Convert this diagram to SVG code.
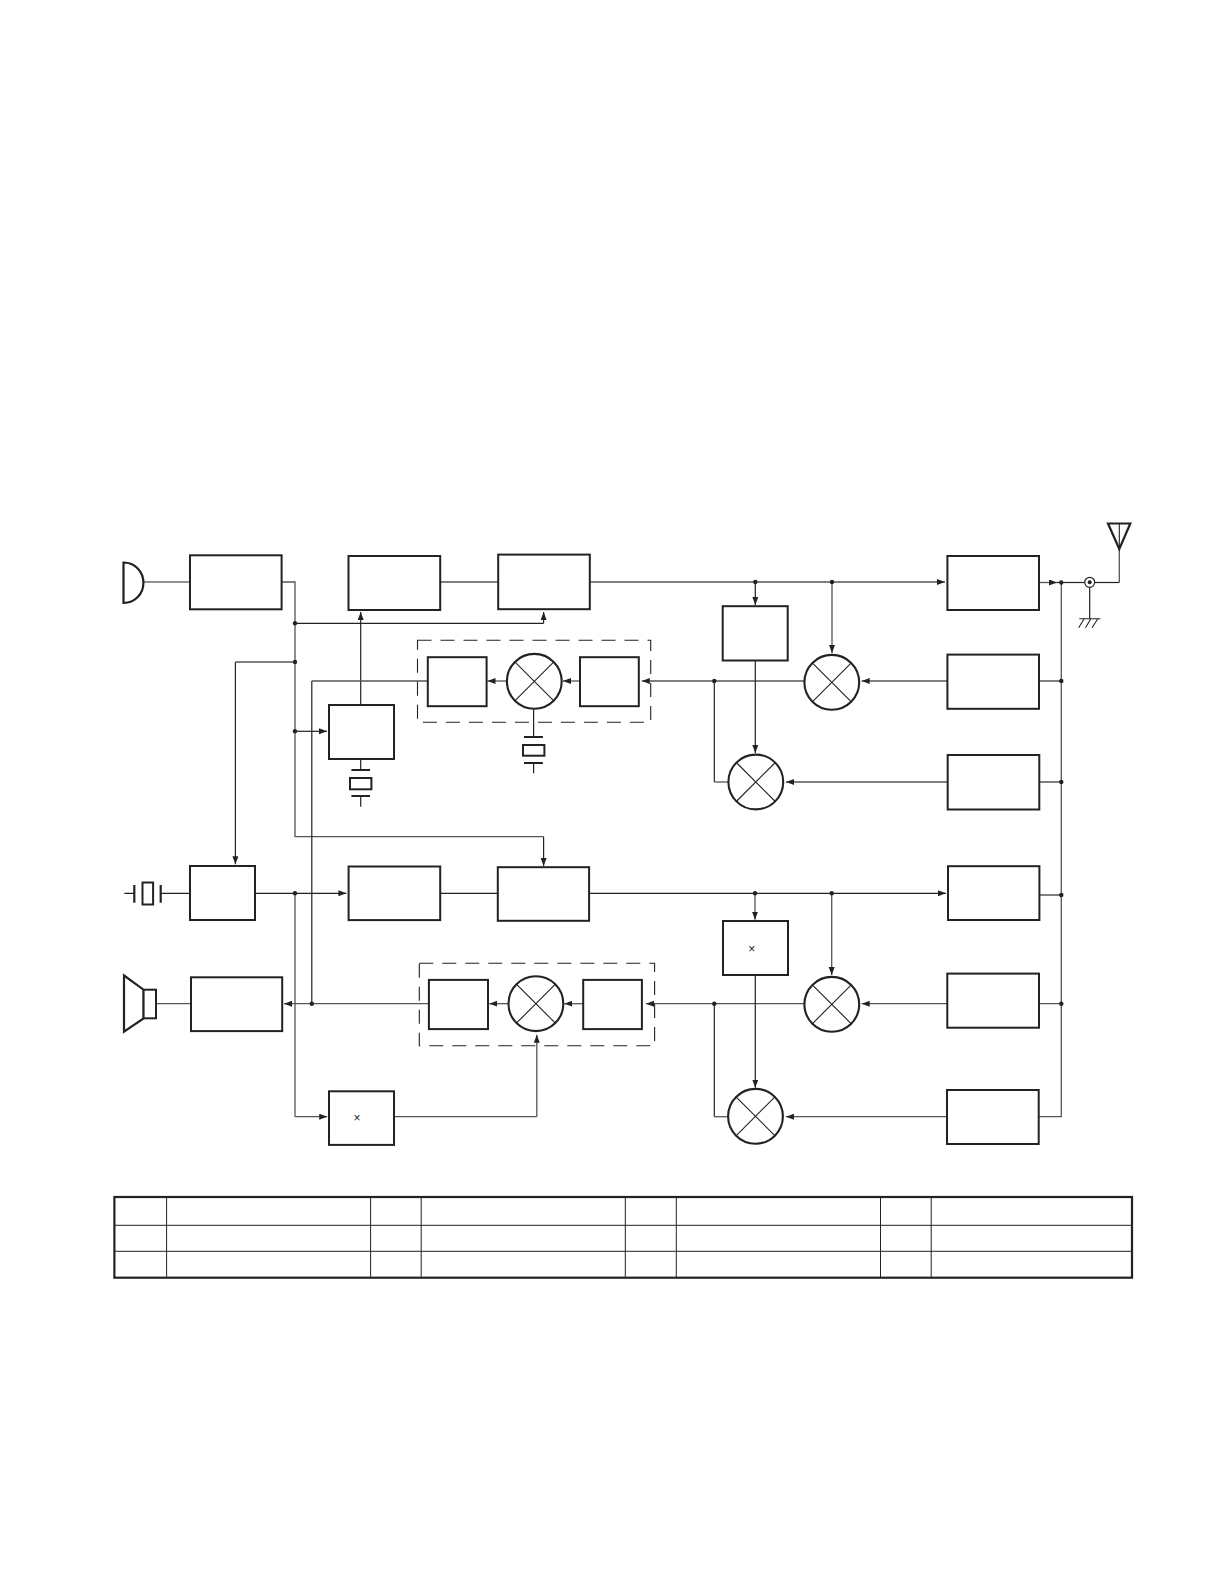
<svg xmlns="http://www.w3.org/2000/svg" width="1224" height="1584" viewBox="0 0 1224 1584">
<style>
.b{fill:#fff;stroke:#222;stroke-width:2}
.c{fill:#fff;stroke:#222;stroke-width:2.1}
.l{fill:none;stroke:#222;stroke-width:1.1}
.k{fill:none;stroke:#222;stroke-width:1.2}
.g{fill:none;stroke:#555;stroke-width:1.3}
.a{marker-end:url(#ah)}
.d{fill:#222;stroke:none}
.dash{fill:none;stroke:#222;stroke-width:1.1;stroke-dasharray:14 9}
.t1{fill:none;stroke:#222;stroke-width:2.2}
.t2{fill:none;stroke:#222;stroke-width:1}
.x{font-family:"Liberation Sans",Arial,sans-serif;font-size:12px;fill:#222;text-anchor:middle}
</style>
<defs>
<marker id="ah" markerUnits="userSpaceOnUse" markerWidth="9" markerHeight="7" refX="8" refY="3" orient="auto"><path d="M0 0L8 3L0 6Z" fill="#222"/></marker>
<g id="mix"><circle class="c" r="27.4"/><path class="l" d="M-19.5-19.5L19.5 19.5M-19.5 19.5L19.5-19.5"/></g>
</defs>
<rect width="1224" height="1584" fill="#fff"/>

<g id="connectors">
<path class="k" d="M143.6 582H190"/>
<path class="g" d="M282 582H295V836.7H543.6"/>
<path class="k a" d="M543.6 836.7V866"/>
<path class="k" d="M295 623.3H543.6"/>
<path class="k a" d="M543.6 623.3V612"/>
<path class="g" d="M440.4 582H498"/>
<path class="g" d="M590 582H900"/>
<path class="g a" d="M900 582H945"/>
<path class="k a" d="M360.7 704.7V612"/>
<path class="g" d="M295 662H235.4"/>
<path class="k a" d="M235.4 662V864.3"/>
<path class="g" d="M427.5 681H311.8"/>
<path class="k" d="M311.8 681V1003.7"/>
<path class="k a" d="M295 731.3H327"/>
<path class="k" d="M360.7 759V770M360.7 796V806.7"/>
<path class="k" d="M533.6 709V737M533.6 763V773.3"/>
<path class="g a" d="M506.4 681H487.5"/>
<path class="g a" d="M579.6 681H563"/>
<path class="g a" d="M804 681H641.8"/>
<path class="k a" d="M755.3 582V605"/>
<path class="g a" d="M832 582V653"/>
<path class="g a" d="M947 681H861.7"/>
<path class="k" d="M714.3 681V782"/>
<path class="g" d="M714.3 782H728"/>
<path class="k a" d="M755.3 660.7V753"/>
<path class="g a" d="M947.3 782H786"/>
<path class="g a" d="M1039.3 582.5H1057"/>
<path class="k" d="M1057 582.5H1084.7"/>
<path class="k" d="M1094.7 582.5H1119.3"/>
<path class="g" d="M1119.3 582.5V549"/>
<path class="k" d="M1089.7 587.5V618.7"/>
<path class="g" d="M1061.3 582.5V1116.7H1039"/>
<path class="g" d="M1039.3 681H1061.3M1039.7 782H1061.3"/>
<path class="g" d="M1039.7 895H1061.3M1039.3 1003.7H1061.3"/>
<path class="k" d="M124.3 893.3H134.3M160.7 893.3H189.6"/>
<path class="k a" d="M255.4 893.3H346.4"/>
<path class="k" d="M440.4 893.3H497.5"/>
<path class="k a" d="M589.3 893.3H946"/>
<path class="g" d="M295 893.3V1116.7"/>
<path class="g a" d="M295 1116.7H327.2"/>
<path class="g" d="M394.3 1116.7H536.8"/>
<path class="g a" d="M536.8 1116.7V1034.7"/>
<path class="g" d="M156.4 1003.7H190.7"/>
<path class="g a" d="M428.6 1003.7H284"/>
<path class="g a" d="M508.2 1003.7H489.3"/>
<path class="g a" d="M582.9 1003.7H564.4"/>
<path class="g a" d="M804 1003.7H646"/>
<path class="g a" d="M755 893.3V919.7"/>
<path class="g a" d="M831.7 893.3V975"/>
<path class="g a" d="M947 1003.7H861.7"/>
<path class="k" d="M714.3 1003.7V1116.7"/>
<path class="g" d="M714.3 1116.7H727.7"/>
<path class="k a" d="M755.3 975.3V1087.7"/>
<path class="g a" d="M946.7 1116.7H786"/>
<circle class="d" cx="295" cy="623.3" r="2.2"/>
<circle class="d" cx="295" cy="662" r="2.2"/>
<circle class="d" cx="295" cy="731.3" r="2.2"/>
<circle class="d" cx="295" cy="893.3" r="2.2"/>
<circle class="d" cx="311.8" cy="1003.7" r="2.2"/>
<circle class="d" cx="755.3" cy="582" r="2.2"/>
<circle class="d" cx="832" cy="582" r="2.2"/>
<circle class="d" cx="714.3" cy="681" r="2.2"/>
<circle class="d" cx="755" cy="893.3" r="2.2"/>
<circle class="d" cx="831.7" cy="893.3" r="2.2"/>
<circle class="d" cx="714.3" cy="1003.7" r="2.2"/>
<circle class="d" cx="1061.3" cy="582.5" r="2.2"/>
<circle class="d" cx="1061.3" cy="681" r="2.2"/>
<circle class="d" cx="1061.3" cy="782" r="2.2"/>
<circle class="d" cx="1061.3" cy="895" r="2.2"/>
<circle class="d" cx="1061.3" cy="1003.7" r="2.2"/>
</g>

<g id="mic"><path class="t1" d="M123.5 562.5V603C135 603 143.4 594 143.4 582.7C143.4 571.5 135 562.5 123.5 562.5Z" fill="#fff"/></g>
<g id="box-1"><rect class="b" x="190" y="555.3" width="91.6" height="54"/></g>
<g id="box-2"><rect class="b" x="348.5" y="556" width="91.7" height="54"/></g>
<g id="box-3"><rect class="b" x="498.2" y="554.6" width="91.6" height="54.6"/></g>
<g id="box-4"><rect class="b" x="329" y="705" width="65" height="54"/></g>
<g id="crystal-1"><path class="t1" d="M351.4 770H370M351.4 796H370"/><rect class="b" x="350" y="778" width="21.4" height="11.3"/></g>
<g id="dashed-1"><rect class="dash" x="417.5" y="640.3" width="233.2" height="82"/></g>
<g id="box-5"><rect class="b" x="427.8" y="657.2" width="58.8" height="49"/></g>
<g id="mixer-1"><use href="#mix" x="534.3" y="681.3"/></g>
<g id="box-6"><rect class="b" x="580" y="657.2" width="58.8" height="49"/></g>
<g id="crystal-2"><path class="t1" d="M524 737H542.9M524 763H542.9"/><rect class="b" x="523" y="745" width="21.4" height="10.7"/></g>
<g id="box-7"><rect class="b" x="722.7" y="606.2" width="65" height="54.3"/></g>
<g id="mixer-2"><use href="#mix" x="831.8" y="682.3"/></g>
<g id="mixer-3"><use href="#mix" x="755.8" y="782"/></g>
<g id="box-r1"><rect class="b" x="947.4" y="556" width="91.6" height="54"/></g>
<g id="box-r2"><rect class="b" x="947.4" y="654.6" width="91.6" height="54.2"/></g>
<g id="box-r3"><rect class="b" x="947.7" y="755" width="91.6" height="54.5"/></g>
<g id="coax"><circle cx="1089.7" cy="582.3" r="5" fill="#fff" stroke="#222" stroke-width="1.2"/><circle class="d" cx="1089.7" cy="582.3" r="2"/></g>
<g id="antenna"><path class="t1" d="M1108 523.5H1130.3L1119.3 549Z" fill="#fff"/><path class="l" d="M1119.3 523.5V549"/></g>
<g id="ground"><path class="l" d="M1079.3 618.7H1100.3M1084 619L1078.7 627.7M1090.7 619L1085.5 627.7M1097.7 619L1092 627.7"/></g>

<g id="crystal-3"><path class="t1" d="M134.3 885V902.7M160.7 885V902.7" stroke-width="1.6"/><rect class="b" x="142.5" y="882.5" width="10.6" height="22"/></g>
<g id="box-8"><rect class="b" x="190" y="866" width="65" height="54"/></g>
<g id="box-9"><rect class="b" x="348.6" y="866.5" width="91.6" height="53.6"/></g>
<g id="box-10"><rect class="b" x="497.8" y="867.2" width="91.3" height="53.6"/></g>
<g id="speaker"><path class="t1" d="M124 975.5L143.6 989.7V1018.3L124 1031.7Z" fill="#fff"/><rect class="b" x="143.6" y="989.7" width="12.4" height="28.6"/></g>
<g id="box-12"><rect class="b" x="191" y="977.3" width="91.2" height="53.8"/></g>
<g id="dashed-2"><rect class="dash" x="419.3" y="963.3" width="235.3" height="82.4"/></g>
<g id="box-13"><rect class="b" x="428.9" y="979.9" width="59.1" height="49.2"/></g>
<g id="mixer-4"><use href="#mix" x="535.9" y="1003.7"/></g>
<g id="box-14"><rect class="b" x="583.2" y="979.9" width="58.7" height="49.2"/></g>
<g id="box-11"><rect class="b" x="329" y="1091.3" width="65" height="53.6"/><text class="x" x="357" y="1122">×</text></g>
<g id="box-15"><rect class="b" x="723" y="921" width="65" height="54"/><text class="x" x="751.7" y="952.5">×</text></g>
<g id="mixer-5"><use href="#mix" x="831.8" y="1004.3"/></g>
<g id="mixer-6"><use href="#mix" x="755.5" y="1116.3"/></g>
<g id="box-r4"><rect class="b" x="948" y="866.2" width="91.4" height="53.8"/></g>
<g id="box-r5"><rect class="b" x="947.3" y="973.6" width="91.7" height="54.1"/></g>
<g id="box-r6"><rect class="b" x="947" y="1090" width="91.7" height="54"/></g>

<g id="table">
<rect class="t1" x="114.4" y="1197" width="1017.6" height="80.7"/>
<path class="t2" d="M114.6 1225.3H1132M114.6 1251.3H1132" stroke-width="1.2"/>
<path class="t2" d="M166.6 1197V1277.7M421.2 1197V1277.7M676.3 1197V1277.7M931.2 1197V1277.7" stroke-width="0.8"/>
<path class="t2" d="M370.6 1197V1277.7M625.3 1197V1277.7M880.5 1197V1277.7"/>
</g>
</svg>
